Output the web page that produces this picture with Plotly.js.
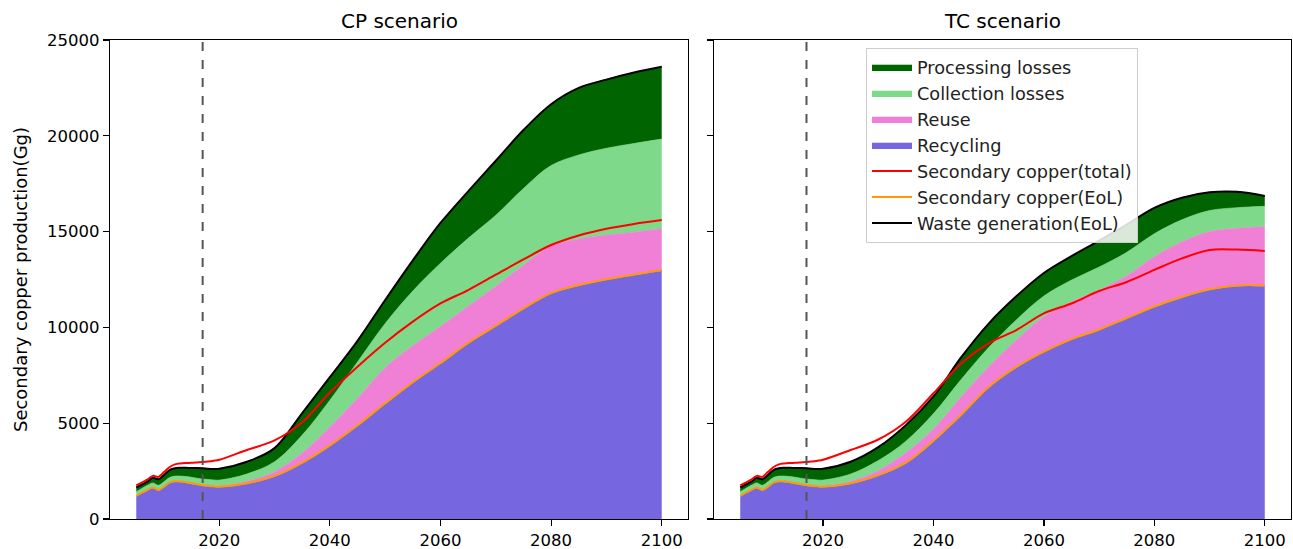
<!DOCTYPE html>
<html>
<head>
<meta charset="utf-8">
<script src="https://cdn.plot.ly/plotly-3.0.1.min.js"></script>
<style>html,body{margin:0;padding:0;background:#fff;}#chart{width:1293px;height:549px;}</style>
</head>
<body>
<div id="chart"></div>
<script>
// ---------- data ----------
const yearsHist = [2005,2006,2007,2008,2009,2010,2011,2012,2013,2014,2015,2016,2017,2018,2019,2020];
const yearsProj = [2025,2030,2035,2040,2045,2050,2055,2060,2065,2070,2075,2080,2085,2090,2095,2100];

// historical part (shared by both scenarios)
const histRecycling  = [1165,1330,1480,1600,1480,1650,1860,1930,1920,1880,1830,1770,1720,1690,1665,1652];
const histReuse      = [50,50,55,55,55,58,60,60,62,64,66,68,70,73,77,80];
const histCollection = [210,215,220,230,225,235,245,250,260,270,280,290,300,300,300,300];
const histProcessing = [225,205,200,265,320,355,385,410,430,455,485,530,560,560,570,590];
const histTotal      = [1750,1900,2050,2250,2200,2450,2700,2850,2900,2920,2930,2950,2970,3000,3040,3090];
const histEoL        = [1200,1370,1520,1640,1520,1690,1900,1970,1960,1920,1870,1810,1760,1730,1705,1690];
const histWaste      = [1650,1800,1950,2150,2080,2300,2550,2650,2670,2670,2660,2660,2650,2620,2610,2620];

// CP scenario projections
const cpRecycling  = [1830,2210,2900,3800,4850,6000,7100,8100,9150,10050,10950,11750,12170,12470,12720,12950];
const cpReuse      = [140,260,540,1000,1450,1900,1950,1950,1950,2100,2300,2500,2450,2350,2250,2200];
const cpCollection = [380,520,940,1400,1900,2300,2850,3300,3550,3700,4000,4200,4380,4530,4630,4680];
const cpProcessing = [640,710,1150,1200,1100,1230,1600,2050,2450,2850,3050,3200,3500,3600,3700,3770];
const cpTotal      = [3600,4100,5050,6600,7950,9200,10300,11250,11950,12750,13550,14300,14800,15150,15400,15600];
const cpEoL        = [1870,2250,2940,3840,4890,6040,7140,8140,9190,10090,10990,11790,12210,12510,12760,12990];
const cpWaste      = [2990,3700,5530,7400,9300,11430,13500,15450,17100,18700,20300,21650,22500,22930,23300,23600];

// TC scenario projections
const tcRecycling  = [1830,2250,2900,4050,5400,6850,7900,8700,9350,9850,10450,11050,11550,11950,12150,12150];
const tcReuse      = [140,280,560,650,980,1100,1440,1860,1990,2100,2250,2640,2920,3050,3020,3100];
const tcCollection = [380,520,600,800,900,1000,1050,1080,1130,1200,1220,1200,1150,1100,1080,1070];
const tcProcessing = [640,700,840,900,1150,1250,1230,1200,1250,1380,1450,1350,1150,950,830,540];
const tcTotal      = [3600,4150,5080,6560,8120,9170,9860,10730,11250,11900,12370,13000,13600,14040,14060,13990];
const tcEoL        = [1870,2290,2940,4090,5440,6890,7940,8740,9390,9890,10490,11090,11590,11990,12190,12190];
const tcWaste      = [2990,3750,4900,6400,8430,10200,11620,12840,13720,14530,15370,16240,16770,17050,17080,16860];

const xTicks = [2020,2040,2060,2080,2100];
const yTicks = [0,5000,10000,15000,20000,25000];
const cutYear = 2017;

// ---------- styles ----------
const C = {
  recycling: '#7667e0',
  reuse: '#f07fd6',
  collection: '#7fd98a',
  processing: '#006400',
  total: '#ff0000',
  eol: '#ff9a00',
  waste: '#000000'
};
const FONT = 'DejaVu Sans, sans-serif';
const years = yearsHist.concat(yearsProj);

function addArr(a, b) { return a.map((v, i) => v + b[i]); }

function scenario(xa, ya, rec, reu, col, pro, tot, eol, wst, showLeg) {
  const sm = 1.0;
  // manual stacking so that spline shapes are honoured
  const l1 = histRecycling.concat(rec);
  const l2 = addArr(l1, histReuse.concat(reu));
  const l3 = addArr(l2, histCollection.concat(col));
  const l4 = addArr(l3, histProcessing.concat(pro));
  const area = (name, y, color, rank, fill) => ({
    type: 'scatter', mode: 'lines', x: years, y: y, fill: fill,
    name: name, legendrank: rank, showlegend: showLeg,
    fillcolor: color, line: {color: color, width: 0.6, shape: 'spline', smoothing: sm},
    xaxis: xa, yaxis: ya, hoverinfo: 'skip'
  });
  const line = (name, h, y, color, rank) => ({
    type: 'scatter', mode: 'lines', x: years, y: h.concat(y), name: name,
    legendrank: rank, showlegend: showLeg,
    line: {color: color, width: 2, shape: 'spline', smoothing: sm},
    xaxis: xa, yaxis: ya, hoverinfo: 'skip'
  });
  return [
    area('Recycling', l1, C.recycling, 4, 'tozeroy'),
    area('Reuse', l2, C.reuse, 3, 'tonexty'),
    area('Collection losses', l3, C.collection, 2, 'tonexty'),
    area('Processing losses', l4, C.processing, 1, 'tonexty'),
    line('Secondary copper(EoL)', histEoL, eol, C.eol, 6),
    line('Waste generation(EoL)', histWaste, wst, C.waste, 7),
    line('Secondary copper(total)', histTotal, tot, C.total, 5)
  ];
}

const data = []
  .concat(scenario('x', 'y', cpRecycling, cpReuse, cpCollection, cpProcessing, cpTotal, cpEoL, cpWaste, false))
  .concat(scenario('x2', 'y2', tcRecycling, tcReuse, tcCollection, tcProcessing, tcTotal, tcEoL, tcWaste, true));

const W = 1293, H = 549;
const axBase = {
  showgrid: false, zeroline: false, showline: true, mirror: true,
  linecolor: '#000', linewidth: 1.2,
  ticks: 'outside', ticklen: 6, tickwidth: 1.2, tickcolor: '#000',
  tickfont: {family: FONT, size: 16.5, color: '#000'}
};
const xa = Object.assign({}, axBase, {range: [2000.25, 2104.75], tickmode: 'array', tickvals: xTicks, ticktext: xTicks.map(String)});
const ya = Object.assign({}, axBase, {range: [0, 25000], tickmode: 'array', tickvals: yTicks, ticktext: yTicks.map(String)});

const layout = {
  width: W, height: H,
  margin: {l: 0, r: 0, t: 40, b: 30},
  paper_bgcolor: '#fff', plot_bgcolor: '#fff',
  font: {family: FONT, color: '#000'},
  xaxis: Object.assign({}, xa, {domain: [110/W, 688/W], anchor: 'y'}),
  yaxis: Object.assign({}, ya, {domain: [0, 1], anchor: 'x',
    title: {text: 'Secondary copper production(Gg)', font: {family: FONT, size: 18, color: '#000'}, standoff: 14}}),
  xaxis2: Object.assign({}, xa, {domain: [714/W, 1291/W], anchor: 'y2'}),
  yaxis2: Object.assign({}, ya, {domain: [0, 1], anchor: 'x2', showticklabels: false}),
  showlegend: true,
  legend: {
    x: 866/W, y: (519-48)/479, xanchor: 'left', yanchor: 'top',
    bgcolor: 'rgba(255,255,255,0.85)', bordercolor: '#cccccc', borderwidth: 1,
    font: {family: FONT, size: 17.7, color: '#222'}, itemwidth: 40, tracegroupgap: 0,
    traceorder: 'normal'
  },
  shapes: [
    {type: 'line', xref: 'x', yref: 'paper', x0: cutYear, x1: cutYear, y0: 0, y1: 1,
     line: {color: '#555555', width: 2, dash: 'dash'}, layer: 'above'},
    {type: 'line', xref: 'x2', yref: 'paper', x0: cutYear, x1: cutYear, y0: 0, y1: 1,
     line: {color: '#555555', width: 2, dash: 'dash'}, layer: 'above'}
  ],
  annotations: [
    {text: 'CP scenario', xref: 'paper', yref: 'paper', x: (110+688)/2/W, y: 1, yanchor: 'bottom', xanchor: 'center', yshift: 5, showarrow: false, font: {family: FONT, size: 20, color: '#000'}},
    {text: 'TC scenario', xref: 'paper', yref: 'paper', x: (714+1291)/2/W, y: 1, yanchor: 'bottom', xanchor: 'center', yshift: 5, showarrow: false, font: {family: FONT, size: 20, color: '#000'}}
  ]
};

Plotly.newPlot('chart', data, layout, {displayModeBar: false, staticPlot: true});
</script>
</body>
</html>
